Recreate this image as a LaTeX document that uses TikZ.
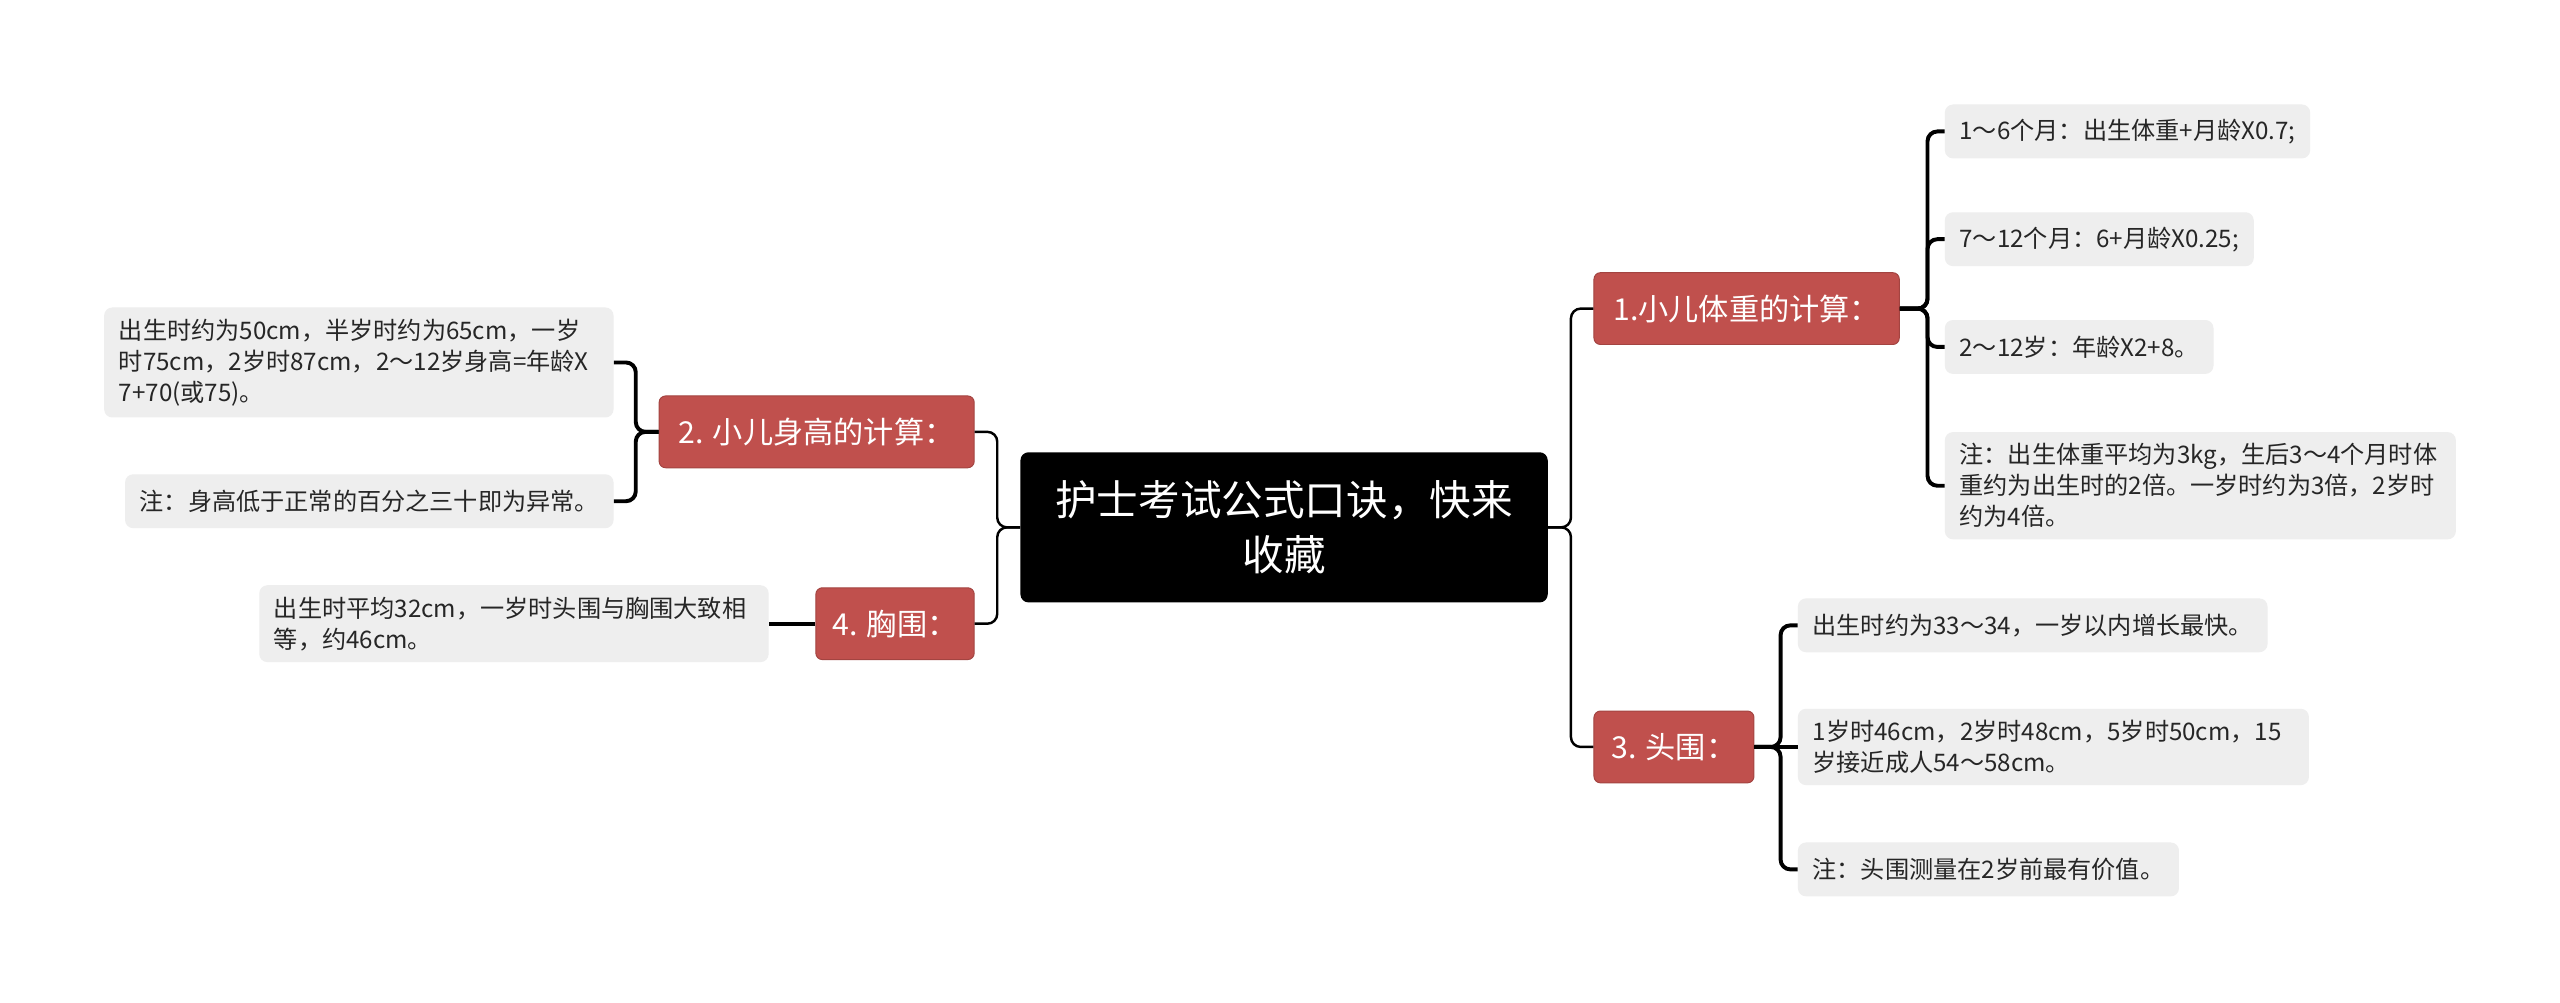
\documentclass[tikz,border=0pt]{standalone}
\usepackage{fontspec}
\setmainfont{Noto Sans CJK SC}
\definecolor{topicred}{HTML}{C0504D}
\definecolor{leafgray}{HTML}{EEEEEE}

\begin{document}
\begin{tikzpicture}[x=1pt,y=-1pt,
  root/.style={fill=black,rounded corners=5pt,text=white,align=center,
    font=\fontsize{25.5}{34}\selectfont,text width=300pt,
    minimum width=323pt,minimum height=92pt,inner sep=0pt},
  topic/.style={fill=topicred,draw=topicred!85!black,line width=0.6pt,
    rounded corners=4pt,text=white,font=\fontsize{18.5}{22}\selectfont,
    minimum height=44pt,inner xsep=10pt},
  leaf/.style={fill=leafgray,rounded corners=5pt,text=black!85,align=left,
    font=\fontsize{14.8}{19}\selectfont,minimum height=33pt,
    inner xsep=9pt,inner ysep=7pt},
  link/.style={line width=1.5pt,rounded corners=6pt},
  twig/.style={line width=2.4pt,rounded corners=6pt}]
  \useasboundingbox (0,0) rectangle (1568,614);
  \fill[white] (0,0) rectangle (1568,614);
  % central topic
  \node[root] (root) at (786.5,323) {护士考试公式口诀，快来\\收藏};
  % main branches
  \node[topic,anchor=west,minimum width=187pt] (weight) at (976,189) {1.小儿体重的计算：};
  \node[topic,anchor=east,minimum width=193pt] (height) at (597,264.5) {2. 小儿身高的计算：};
  \node[topic,anchor=west,minimum width=98pt] (head) at (976,457.5) {3. 头围：};
  \node[topic,anchor=east,minimum width=97pt] (chest) at (597,382) {4. 胸围：};
  % weight details
  \node[leaf,anchor=west] (w1) at (1191,80.5) {1～6个月：出生体重+月龄X0.7;};
  \node[leaf,anchor=west] (w2) at (1191,146.5) {7～12个月：6+月龄X0.25;};
  \node[leaf,anchor=west] (w3) at (1191,212.5) {2～12岁：年龄X2+8。};
  \node[leaf,anchor=west,text width=295pt] (w4) at (1191,297.5)
    {注：出生体重平均为3kg，生后3～4个月时体\\重约为出生时的2倍。一岁时约为3倍，2岁时\\约为4倍。};
  % height details
  \node[leaf,anchor=east,text width=294pt] (h1) at (376,222)
    {出生时约为50cm，半岁时约为65cm，一岁\\时75cm，2岁时87cm，2～12岁身高=年龄X\\7+70(或75)。};
  \node[leaf,anchor=east] (h2) at (376,307) {注：身高低于正常的百分之三十即为异常。};
  % head details
  \node[leaf,anchor=west] (d1) at (1101,383) {出生时约为33～34，一岁以内增长最快。};
  \node[leaf,anchor=west,text width=295pt] (d2) at (1101,457.5)
    {1岁时46cm，2岁时48cm，5岁时50cm，15\\岁接近成人54～58cm。};
  \node[leaf,anchor=west] (d3) at (1101,532.5) {注：头围测量在2岁前最有价值。};
  % chest detail
  \node[leaf,anchor=east,text width=294pt] (c1) at (471,382)
    {出生时平均32cm，一岁时头围与胸围大致相\\等，约46cm。};
  % connectors
  \foreach \t in {weight,head} \draw[link] (root.east) -- ++(14,0) |- (\t.west);
  \foreach \t in {height,chest} \draw[link] (root.west) -- ++(-14,0) |- (\t.east);
  \foreach \l in {w1,w2,w3,w4} \draw[twig] (weight.east) -- ++(17,0) |- (\l.west);
  \foreach \l in {d1,d3} \draw[twig] (head.east) -- ++(16,0) |- (\l.west);
  \draw[twig] (head.east) -- (d2.west);
  \foreach \l in {h1,h2} \draw[twig] (height.west) -- ++(-14,0) |- (\l.east);
  \draw[twig] (chest.west) -- (c1.east);
\end{tikzpicture}
\end{document}
